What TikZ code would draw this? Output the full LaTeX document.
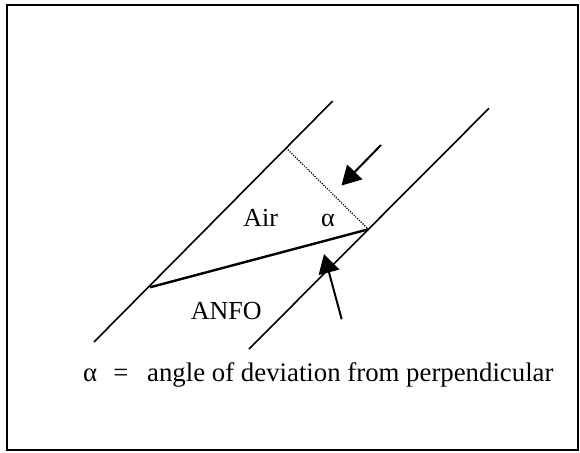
\documentclass[tikz,border=0pt]{standalone}
\usepackage{fontspec}
\setmainfont{Liberation Serif}
\usetikzlibrary{arrows.meta,calc}

\begin{document}
\begin{tikzpicture}[x=1pt,y=-1pt,
  wall/.style={line width=1.6pt},
  front/.style={line width=2.4pt},
  perp/.style={line width=1.2pt,dash pattern=on 1.2pt off 1.3pt},
  flow/.style={line width=2pt,-{Triangle[length=19pt,width=21pt]}},
  lbl/.style={font=\fontsize{26}{30}\selectfont,inner sep=0pt,anchor=base}]
  \useasboundingbox (0,0) rectangle (580,452);
  \draw[line width=2pt] (7,5) rectangle (578,450);
  \coordinate (lb) at (94,342);
  \coordinate (lt) at (332.7,101);
  \coordinate (rb) at (249,349);
  \coordinate (rt) at (489,108.3);
  \coordinate (lw) at (150,287.3);
  \coordinate (rw) at (368.3,229.3);
  \coordinate (lp) at ($(lb)!(rw)!(lt)$);
  \draw[wall] (lb) -- (lt);
  \draw[wall] (rb) -- (rt);
  \draw[front] (lw) -- (rw);
  \draw[perp] (lp) -- (rw);
  \coordinate (in1) at (381,145);
  \coordinate (tip1) at (341.5,185.5);
  \coordinate (in2) at (341.7,319.3);
  \coordinate (tip2) at (324,254);
  \draw[flow] (in1) -- (tip1);
  \draw[flow] (in2) -- (tip2);
  \node[lbl] (air) at (260.8,226.7) {Air};
  \node[lbl] (alpha) at (328,226.7) {α};
  \node[lbl] (anfo) at (226.2,319.3) {ANFO};
  \node[lbl,font=\fontsize{26.8}{31}\selectfont,anchor=base west] (key) at (83,381) {α\hspace{0.6em}=\hspace{0.7em}angle of deviation from perpendicular};
\end{tikzpicture}
\end{document}
